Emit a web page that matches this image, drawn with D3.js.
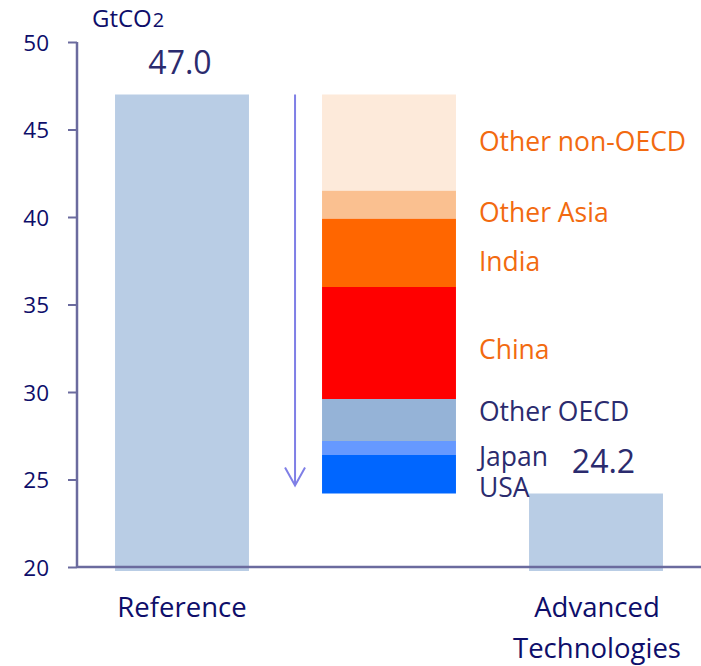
<!DOCTYPE html>
<html>
<head>
<meta charset="utf-8">
<script src="https://cdn.jsdelivr.net/npm/d3@7"></script>
<style>
  html, body { margin: 0; padding: 0; background: #fff; }
  svg { display: block; font-family: "Open Sans", Lato, sans-serif; }
</style>
</head>
<body>
<svg id="chart" width="701" height="666"></svg>
<script>
// Scenario totals (GtCO2)
const scenarios = ["Reference", "Advanced Technologies"];
const totals = [47.0, 24.2];

// Reductions between the two scenarios, by region (top of stack first)
const regions = ["Other non-OECD", "Other Asia", "India", "China", "Other OECD", "Japan", "USA"];
const reductions = [5.5, 1.6, 3.9, 6.4, 2.4, 0.8, 2.2];
const regionColors = ["#FDEADA", "#FAC090", "#FF6600", "#FF0000", "#95B3D7", "#6699FF", "#0066FF"];
const labelColors = ["#F26A10", "#F26A10", "#F26A10", "#F26A10", "#2B2B6E", "#2B2B6E", "#2B2B6E"];

const yTicks = [20, 25, 30, 35, 40, 45, 50];
const unitLabel = "GtCO";

const svg = d3.select("#chart");
const navy = "#0E0E6A";
const axisColor = "#6B6B9E";

const y = d3.scaleLinear().domain([20, 50]).range([567, 42]);
const slots = ["Reference", "reduction", "Advanced Technologies"];
const x = d3.scaleBand().domain(slots).range([78.5, 699.5]).paddingInner(0.353).paddingOuter(0.1765);

// Scenario bars
const scen = scenarios.map((s, i) => ({ name: s, value: totals[i] }));
svg.selectAll("rect.scen").data(scen).enter().append("rect")
  .attr("class", "scen")
  .attr("x", d => x(d.name))
  .attr("width", x.bandwidth())
  .attr("y", d => y(d.value))
  .attr("height", d => y(20) - y(d.value) + 4)
  .attr("fill", "#B9CDE5");

// Value labels above scenario bars
svg.selectAll("text.val").data(scen).enter().append("text")
  .attr("class", "val")
  .attr("x", (d, i) => x(d.name) + x.bandwidth() / 2 + (i === 1 ? 7.5 : -2))
  .attr("y", d => y(d.value) - 21)
  .attr("text-anchor", "middle")
  .attr("font-size", 32)
  .attr("fill", "#2B2B6E")
  .text(d => d.value.toFixed(1));

// Stacked reduction bar, hanging from the reference total
let level = totals[0];
const segs = regions.map((r, i) => {
  const s = { name: r, hi: level, lo: level - reductions[i], color: regionColors[i], label: labelColors[i] };
  level = s.lo;
  return s;
});
svg.selectAll("rect.seg").data(segs).enter().append("rect")
  .attr("class", "seg")
  .attr("x", x("reduction"))
  .attr("width", x.bandwidth())
  .attr("y", d => y(d.hi))
  .attr("height", d => y(d.lo) - y(d.hi))
  .attr("fill", d => d.color);

// Region labels beside the stack; the two thin bottom segments share one text block
const labelShift = [8.5, 17, 18, 16, 1, 17.5, 22.5];
const labelX = x("reduction") + x.bandwidth() + 23;
const labelY = (d, i) => (y(d.hi) + y(d.lo)) / 2 + labelShift[i];
const single = segs.slice(0, 5);
const paired = segs.slice(5);
svg.selectAll("text.reg").data(single).enter().append("text")
  .attr("class", "reg")
  .attr("x", labelX)
  .attr("y", labelY)
  .attr("font-size", 26.5)
  .attr("fill", d => d.label)
  .text(d => d.name);
const pairText = svg.append("text").attr("class", "reg").attr("font-size", 26.5);
pairText.selectAll("tspan").data(paired).enter().append("tspan")
  .attr("x", labelX)
  .attr("y", (d, i) => labelY(d, i + 5))
  .attr("fill", d => d.label)
  .text(d => d.name);

// Downward arrow alongside the stack
const ax = x("reduction") - 27;
const arrow = svg.append("g").attr("stroke", "#7F7FE6").attr("stroke-width", 2).attr("fill", "none");
arrow.append("line").attr("x1", ax).attr("x2", ax).attr("y1", y(totals[0])).attr("y2", y(totals[1]) - 8);
arrow.append("path").attr("d", `M${ax - 10},${y(totals[1]) - 26} L${ax},${y(totals[1]) - 8} L${ax + 10},${y(totals[1]) - 26}`);

// Y axis
const yAxis = svg.append("g").attr("transform", "translate(77,0)")
  .call(d3.axisLeft(y).tickValues(yTicks).tickSize(9).tickPadding(19).tickFormat(d3.format("d")));
yAxis.select(".domain").attr("stroke", axisColor).attr("stroke-width", 2.5).attr("d", `M0,${y(50)}V${y(20)}`);
yAxis.selectAll(".tick line").attr("stroke", axisColor).attr("stroke-width", 2);
yAxis.selectAll(".tick text").attr("fill", navy).attr("font-size", 22.5).attr("font-family", "'Open Sans', sans-serif").attr("dy", "0.36em");

// X axis baseline
svg.append("line").attr("x1", 77).attr("x2", 701).attr("y1", y(20)).attr("y2", y(20))
  .attr("stroke", axisColor).attr("stroke-width", 2.5);

// Category labels
svg.append("text").attr("x", x("Reference") + x.bandwidth() / 2).attr("y", 617)
  .attr("text-anchor", "middle").attr("font-size", 27.5).attr("fill", navy).text("Reference");
const advX = x("Advanced Technologies") + x.bandwidth() / 2 + 1;
const adv = svg.append("text").attr("y", 617)
  .attr("text-anchor", "middle").attr("font-size", 27.5).attr("fill", navy);
adv.append("tspan").attr("x", advX).text("Advanced");
adv.append("tspan").attr("x", advX).attr("dy", 41).text("Technologies");

// Unit label
const unit = svg.append("text").attr("x", 92).attr("y", 27).attr("font-size", 24).attr("fill", navy);
unit.append("tspan").text(unitLabel);
unit.append("tspan").attr("font-size", 20).attr("dx", 1).text("2");
</script>
</body>
</html>
